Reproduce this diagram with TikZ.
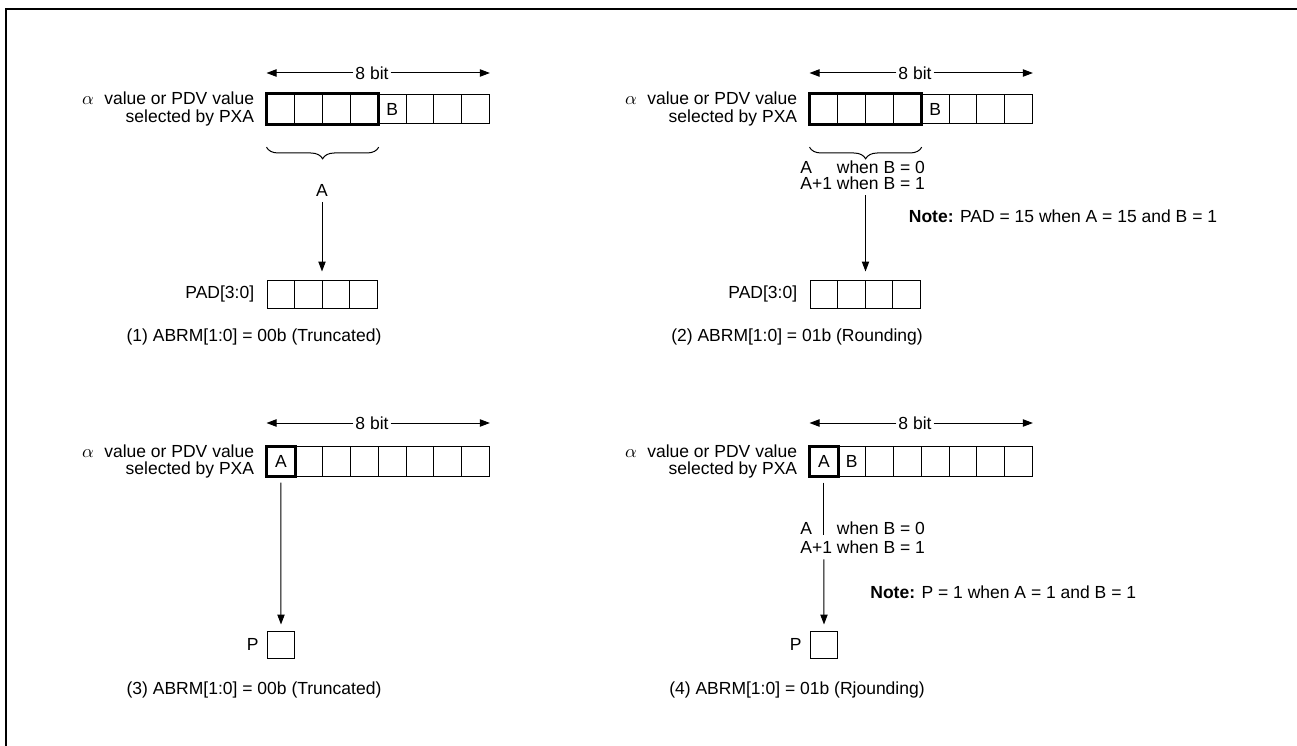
\documentclass[tikz,border=0pt]{standalone}
\usepackage{fontspec}
\setmainfont{Liberation Sans}
\usetikzlibrary{arrows.meta,decorations.pathreplacing,positioning}
\tikzset{
  cell/.style={draw,line width=0.6pt,minimum width=16.68pt,minimum height=17.6pt,inner sep=0pt},
  padcell/.style={draw,line width=0.6pt,minimum width=16.5pt,minimum height=16.8pt,inner sep=0pt},
  pbox/.style={draw,line width=0.6pt,minimum width=16.2pt,minimum height=16.2pt,inner sep=0pt},
  grp/.style={line width=1.8pt},
  arr/.style={line width=0.6pt,-{Triangle[length=6pt,width=4.4pt]}},
  bitlbl/.style={inner sep=1pt},
  brc/.style={decorate,decoration={brace,mirror,amplitude=7pt},line width=0.6pt},
}
\begin{document}
\begin{tikzpicture}[x=0.6pt,y=-0.6pt,font=\fontsize{10.5}{10.4}\selectfont]
\useasboundingbox (0,0) rectangle (1297,746);
\draw[line width=1.2pt] (5.5,746) -- (5.5,9) -- (1297,9);

% (1) truncated, 4 bit
\foreach \i/\t in {1/{},2/{},3/{},4/{},5/B,6/{},7/{},8/{}}
  \node[cell] (ra\i) at ({267+27.8*(\i-0.5)},109) {\t};
\draw[grp] (ra1.north west) rectangle (ra4.south east);
\node[bitlbl] (ba) at (372,73) {8 bit};
\draw[arr] (ba) -- (ba -| ra1.west);
\draw[arr] (ba) -- (ba -| ra8.east);
\node[align=right,left=3.9pt of ra1] (la) {$\alpha$\hspace{0.6em}value or PDV value\\selected by PXA};
\draw[brc] ([yshift=-13.8pt]ra1.south west) -- ([yshift=-13.8pt]ra4.south east);
\node (aa) at (322,190) {A};
\foreach \i in {1,...,4}
  \node[padcell] (pa\i) at ({267+27.5*(\i-0.5)},294) {};
\draw[arr,shorten >=4.8pt] (aa) -- (aa |- pa2.north east);
\node[left=3.9pt of pa1] (lpa) {PAD[3:0]};
\node (ca) at (254,337) {(1) ABRM[1:0] = 00b (Truncated)};

% (2) rounding, 4 bit
\foreach \i/\t in {1/{},2/{},3/{},4/{},5/B,6/{},7/{},8/{}}
  \node[cell] (rb\i) at ({810+27.8*(\i-0.5)},109) {\t};
\draw[grp] (rb1.north west) rectangle (rb4.south east);
\node[bitlbl] (bb) at (915,73) {8 bit};
\draw[arr] (bb) -- (bb -| rb1.west);
\draw[arr] (bb) -- (bb -| rb8.east);
\node[align=right,left=3.9pt of rb1] (lb) {$\alpha$\hspace{0.6em}value or PDV value\\selected by PXA};
\draw[brc] ([yshift=-13.8pt]rb1.south west) -- ([yshift=-13.8pt]rb4.south east);
\node[anchor=west] (tb1) at (794.5,167) {A\phantom{+1} when B = 0};
\node[anchor=west] (tb2) at (794.5,183) {A+1 when B = 1};
\foreach \i in {1,...,4}
  \node[padcell] (pb\i) at ({810+27.5*(\i-0.5)},294) {};
\draw[arr,shorten >=4.8pt] (tb2.south -| pb2.north east) -- (pb2.north east);
\node[anchor=west] (nb) at (903,216) {\textbf{Note:} PAD = 15 when A = 15 and B = 1};
\node[left=3.9pt of pb1] (lpb) {PAD[3:0]};
\node (cb) at (797,337) {(2) ABRM[1:0] = 01b (Rounding)};

% (3) truncated, 1 bit
\foreach \i/\t in {1/A,2/{},3/{},4/{},5/{},6/{},7/{},8/{}}
  \node[cell] (rc\i) at ({267+27.8*(\i-0.5)},461.5) {\t};
\draw[grp] (rc1.north west) rectangle (rc1.south east);
\node[bitlbl] (bc) at (372,423) {8 bit};
\draw[arr] (bc) -- (bc -| rc1.west);
\draw[arr] (bc) -- (bc -| rc8.east);
\node[align=right,left=3.9pt of rc1] (lc) {$\alpha$\hspace{0.6em}value or PDV value\\selected by PXA};
\node[pbox] (pc) at (281,644.5) {};
\draw[arr,shorten <=3.6pt,shorten >=3.6pt] (rc1.south) -- (pc.north);
\node[left=1.5pt of pc] (lpc) {P};
\node (cc) at (254,690) {(3) ABRM[1:0] = 00b (Truncated)};

% (4) rounding, 1 bit
\foreach \i/\t in {1/A,2/B,3/{},4/{},5/{},6/{},7/{},8/{}}
  \node[cell] (rd\i) at ({810+27.8*(\i-0.5)},461.5) {\t};
\draw[grp] (rd1.north west) rectangle (rd1.south east);
\node[bitlbl] (bd) at (915,423) {8 bit};
\draw[arr] (bd) -- (bd -| rd1.west);
\draw[arr] (bd) -- (bd -| rd8.east);
\node[align=right,left=3.9pt of rd1] (ld) {$\alpha$\hspace{0.6em}value or PDV value\\selected by PXA};
\node[anchor=west] (td1) at (794.5,528) {A\phantom{+1} when B = 0};
\node[anchor=west] (td2) at (794.5,547) {A+1 when B = 1};
\node[pbox] (pd) at (824,644.5) {};
\draw[line width=0.6pt,shorten <=3.6pt] (rd1.south) -- (rd1.south |- td2.north);
\draw[arr,shorten >=3.6pt] (rd1.south |- td2.south) -- (pd.north);
\node[anchor=west] (nd) at (864.5,592) {\textbf{Note:} P = 1 when A = 1 and B = 1};
\node[left=1.5pt of pd] (lpd) {P};
\node (cd) at (797,690) {(4) ABRM[1:0] = 01b (Rjounding)};
\end{tikzpicture}
\end{document}
